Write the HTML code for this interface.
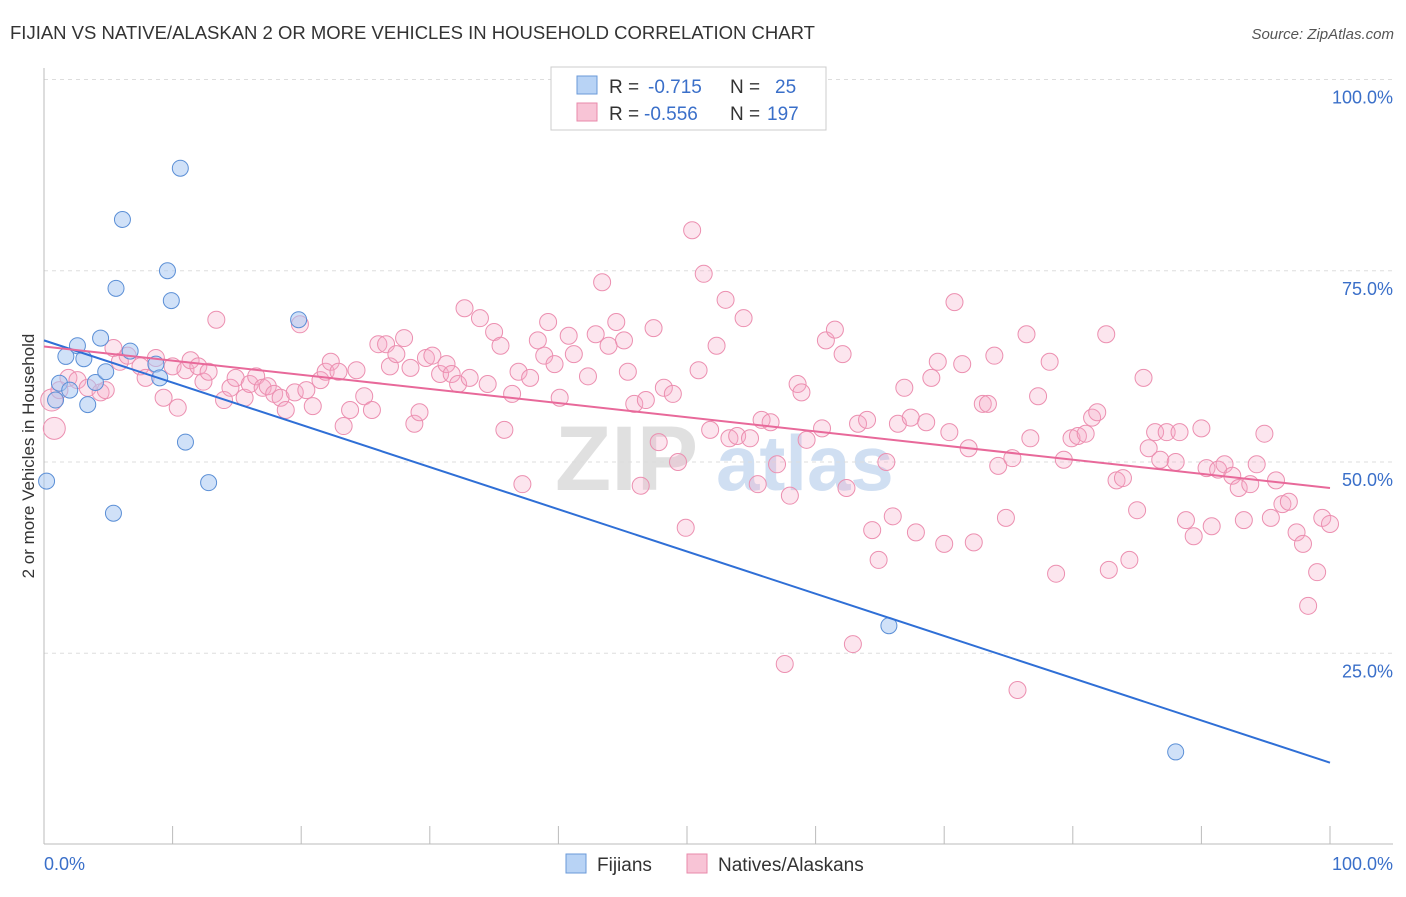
<!DOCTYPE html>
<html><head><meta charset="utf-8">
<style>
body{margin:0;background:#fff;font-family:"Liberation Sans",sans-serif;}
svg text{font-family:"Liberation Sans",sans-serif;}
</style></head>
<body>
<svg id="chart" width="1406" height="892" xmlns="http://www.w3.org/2000/svg">
<text x="10" y="39" font-size="18.5" fill="#333">FIJIAN VS NATIVE/ALASKAN 2 OR MORE VEHICLES IN HOUSEHOLD CORRELATION CHART</text>
<text x="1394" y="39" font-size="15" fill="#555" font-style="italic" text-anchor="end">Source: ZipAtlas.com</text>
<text x="34" y="456" font-size="17" fill="#333" text-anchor="middle" transform="rotate(-90 34 456)">2 or more Vehicles in Household</text>
<g><text x="555" y="490" font-size="92" fill="#e0e0e0" font-family="Liberation Serif" font-weight="bold">ZIP</text><text x="716" y="490" font-size="78" fill="#d0dff2" font-weight="bold">atlas</text></g>
<g id="grid"></g><g id="pts"></g><g id="lines"></g>
<g>
<rect x="551" y="67" width="275" height="63" fill="#fff" stroke="#ccc"/>
<rect x="577" y="76" width="20" height="18" fill="#b8d3f5" stroke="#6a9ad8"/>
<rect x="577" y="103" width="20" height="18" fill="#f8c4d6" stroke="#e88aab"/>
<text x="609" y="93" font-size="19" fill="#333">R =</text>
<text x="648" y="93" font-size="19" fill="#3a6fc9">-0.715</text>
<text x="730" y="93" font-size="19" fill="#333">N =</text>
<text x="775" y="93" font-size="19" fill="#3a6fc9">25</text>
<text x="609" y="120" font-size="19" fill="#333">R =</text>
<text x="644" y="120" font-size="19" fill="#3a6fc9">-0.556</text>
<text x="730" y="120" font-size="19" fill="#333">N =</text>
<text x="767" y="120" font-size="19" fill="#3a6fc9">197</text>
</g>
<g>
<rect x="566" y="854" width="20" height="19" fill="#b8d3f5" stroke="#6a9ad8"/>
<text x="597" y="871" font-size="19" fill="#333">Fijians</text>
<rect x="687" y="854" width="20" height="19" fill="#f8c4d6" stroke="#e88aab"/>
<text x="718" y="871" font-size="19" fill="#333">Natives/Alaskans</text>
</g>
</svg>
<script>
const yTicks=[25,50,75,100];
const yTickLabels=["25.0%","50.0%","75.0%","100.0%"];
const xEndLabels=["0.0%","100.0%"];
const fijX=[0.2,0.9,1.2,2.0,1.7,2.6,3.1,3.4,4.0,4.4,4.8,5.6,6.1,5.4,6.7,8.7,9.0,9.6,9.9,10.6,11.0,12.8,19.8,65.7,88.0];
const fijY=[47.5,58.1,60.3,59.4,63.8,65.2,63.5,57.5,60.4,66.2,61.8,72.7,81.7,43.3,64.5,62.8,61.0,75.0,71.1,88.4,52.6,47.3,68.6,28.6,12.1];
const natX=[0.6,0.8,1.2,1.9,2.6,3.4,4.4,4.8,5.4,5.9,6.5,7.5,7.9,8.7,9.3,10.0,10.4,11.0,11.4,12.0,12.4,12.8,13.4,14.0,14.5,14.9,15.6,16.0,16.5,17.0,17.4,17.9,18.4,18.8,19.5,19.9,20.4,20.9,21.5,21.9,22.3,22.9,23.3,23.8,24.3,24.9,25.5,26.0,26.6,26.9,27.4,28.0,28.5,28.8,29.2,29.7,30.2,30.8,31.3,31.7,32.2,32.7,33.1,33.9,34.5,35.0,35.5,35.8,36.4,36.9,37.2,37.8,38.4,38.9,39.2,39.7,40.1,40.8,41.2,42.3,42.9,43.4,43.9,44.5,45.1,45.4,45.9,46.4,46.8,47.4,47.8,48.2,48.9,49.3,49.9,50.4,50.9,51.3,51.8,52.3,53.0,53.3,53.9,54.4,54.9,55.5,55.8,56.5,57.0,57.6,58.0,58.6,58.9,59.3,60.5,60.8,61.5,62.1,62.4,62.9,63.3,64.0,64.4,64.9,65.5,66.0,66.4,66.9,67.4,67.8,68.6,69.0,69.5,70.0,70.4,70.8,71.4,71.9,72.3,73.0,73.4,73.9,74.2,74.8,75.3,75.7,76.4,76.7,77.3,78.2,78.7,79.3,79.9,80.4,81.0,81.5,81.9,82.6,82.8,83.4,83.9,84.4,85.0,85.5,85.9,86.4,86.8,87.3,88.0,88.3,88.8,89.4,90.0,90.4,90.8,91.3,91.8,92.4,92.9,93.3,93.8,94.3,94.9,95.4,95.8,96.3,96.8,97.4,97.9,98.3,99.0,99.4,100];
const natY=[58.1,54.4,59.4,61.0,60.7,59.7,59.1,59.4,64.9,63.1,63.9,62.5,61.0,63.6,58.4,62.5,57.1,62.0,63.3,62.5,60.5,61.8,68.6,58.1,59.7,61.0,58.4,60.2,61.2,59.7,59.9,58.9,58.4,56.8,59.1,68.0,59.4,57.3,60.7,61.8,63.1,61.8,54.7,56.8,62.0,58.6,56.8,65.4,65.4,62.5,64.1,66.2,62.3,55.0,56.5,63.6,63.9,61.5,62.8,61.5,60.2,70.1,61.0,68.8,60.2,67.0,65.2,54.2,58.9,61.8,47.1,61.0,65.9,63.9,68.3,62.8,58.4,66.5,64.1,61.2,66.7,73.5,65.2,68.3,65.9,61.8,57.6,46.9,58.1,67.5,52.6,59.7,58.9,50.0,41.4,80.3,62.0,74.6,54.2,65.2,71.2,53.1,53.4,68.8,53.1,47.1,55.5,55.2,49.7,23.6,45.6,60.2,59.1,52.9,54.4,65.9,67.3,64.1,46.6,26.2,55.0,55.5,41.1,37.2,50.0,42.9,55.0,59.7,55.8,40.8,55.2,61.0,63.1,39.3,53.9,70.9,62.8,51.8,39.5,57.6,57.6,63.9,49.5,42.7,50.5,20.2,66.7,53.1,58.6,63.1,35.4,50.3,53.1,53.4,53.7,55.8,56.5,66.7,35.9,47.6,47.9,37.2,43.7,61.0,51.8,53.9,50.3,53.9,50.0,53.9,42.4,40.3,54.4,49.2,41.6,49.0,49.7,48.2,46.6,42.4,47.1,49.7,53.7,42.7,47.6,44.5,44.8,40.8,39.3,31.2,35.6,42.7,41.9];
const fijLine=[65.9,10.7];
const natLine=[65.1,46.6];
const X=v=>44+v*12.86, Y=v=>462-(v-50)*7.65;
const NS="http://www.w3.org/2000/svg";
function mk(tag,attrs,parent){const e=document.createElementNS(NS,tag);for(const k in attrs)e.setAttribute(k,attrs[k]);parent.appendChild(e);return e;}
const grid=document.getElementById('grid'),pts=document.getElementById('pts'),lines=document.getElementById('lines');
yTicks.forEach((t,i)=>{
 const g=mk('line',{x1:44,x2:1393,y1:Y(t),y2:Y(t),stroke:'#ddd','stroke-dasharray':'4,4'},grid);
 
 
 const l=mk('text',{x:1393,y:Y(t)+24,'font-size':18,fill:'#3a6fc9','text-anchor':'end'},grid);l.textContent=yTickLabels[i];
 
 
});
mk('line',{x1:44,x2:44,y1:68,y2:844,stroke:'#bbb'},grid);
mk('line',{x1:44,x2:1393,y1:844,y2:844,stroke:'#bbb'},grid);
for(let i=0;i<=10;i++){mk('line',{x1:X(i*10),x2:X(i*10),y1:826,y2:844,stroke:'#bbb'},grid);}
const xl0=mk('text',{x:44,y:870,'font-size':18,fill:'#3a6fc9'},grid);xl0.textContent=xEndLabels[0];


const xl1=mk('text',{x:1393,y:870,'font-size':18,fill:'#3a6fc9','text-anchor':'end'},grid);xl1.textContent=xEndLabels[1];


natX.forEach((x,i)=>{
 const c=mk('circle',{cx:X(x),cy:Y(natY[i]),r:i<2?11:8.5,fill:'rgba(246,170,198,0.3)',stroke:'#ec8fb0','stroke-width':1},pts);
 
 
});
fijX.forEach((x,i)=>{
 const c=mk('circle',{cx:X(x),cy:Y(fijY[i]),r:8,fill:'rgba(170,200,242,0.55)',stroke:'#5b8fd6','stroke-width':1},pts);
 
 
});
const fl=mk('line',{x1:X(0),y1:Y(fijLine[0]),x2:X(100),y2:Y(fijLine[1]),stroke:'#2f6fd6','stroke-width':2},lines);


const nl=mk('line',{x1:X(0),y1:Y(natLine[0]),x2:X(100),y2:Y(natLine[1]),stroke:'#e8699a','stroke-width':2},lines);


</script>
</body></html>
